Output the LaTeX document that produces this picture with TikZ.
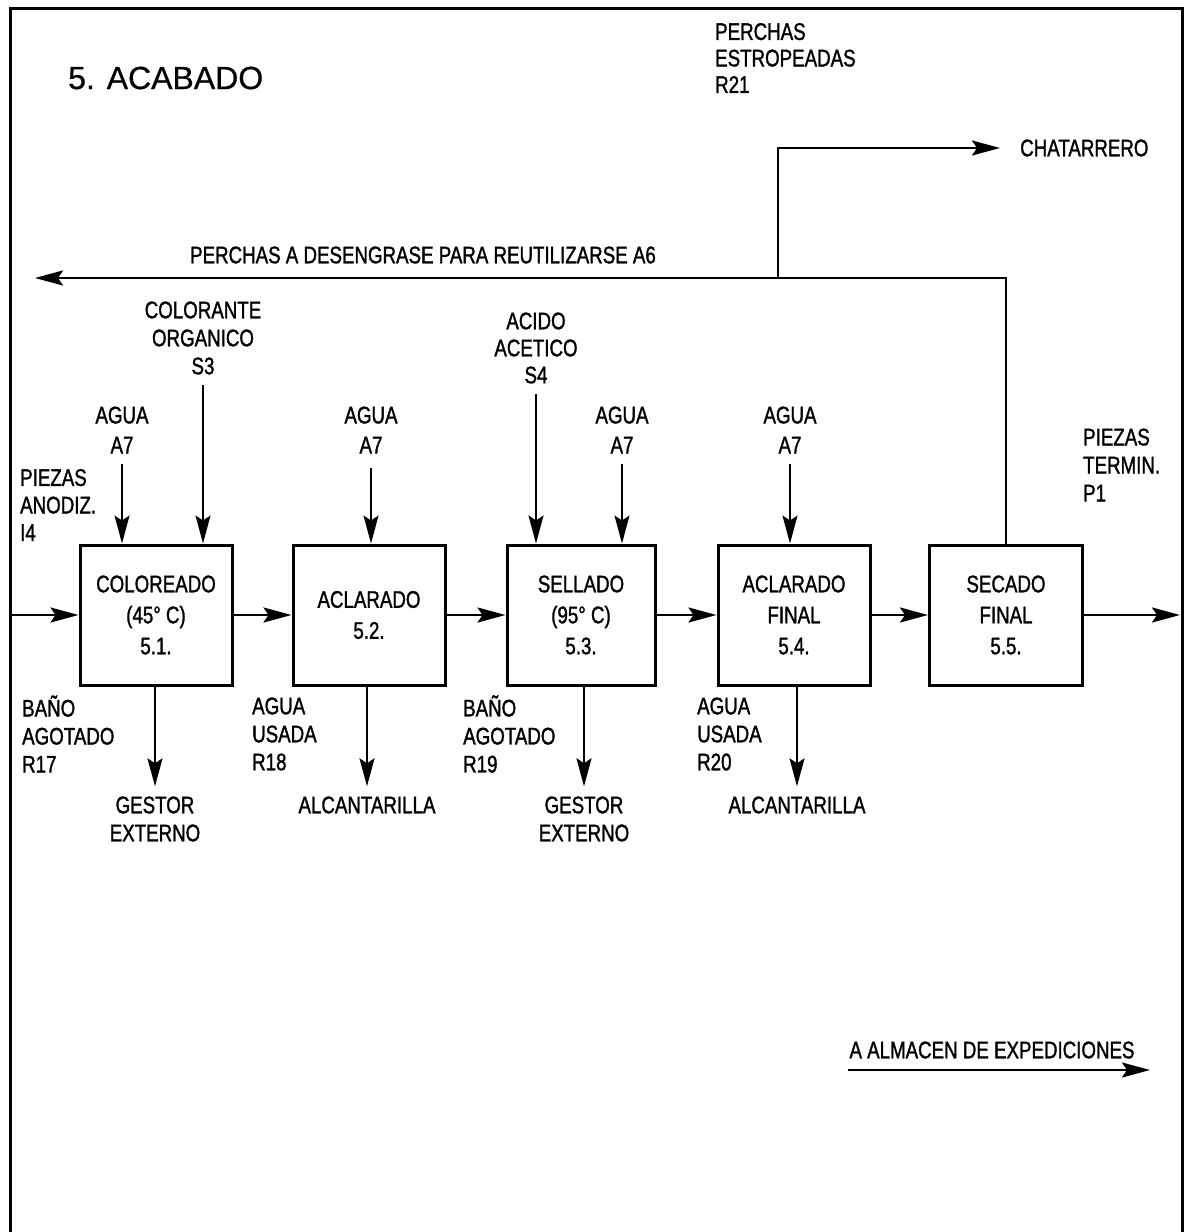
\documentclass[tikz,border=0pt]{standalone}
\usepackage{fontspec}
\setmainfont{Liberation Sans}[FakeStretch=0.78,FakeBold=1.3]
\newfontfamily\titlefont{Liberation Sans}[FakeBold=0.6]
\usetikzlibrary{arrows.meta}
\begin{document}
\begin{tikzpicture}[x=1pt,y=-1pt,
  lbl/.style={inner sep=0pt, align=center, font=\fontsize{24}{28}\selectfont},
  lbll/.style={lbl, align=left, anchor=west},
  proc/.style={draw, line width=3pt, minimum height=140pt, inner sep=0pt, align=center, font=\fontsize{24}{31}\selectfont},
  flow/.style={line width=2.5pt, -{Stealth[length=28pt,width=15pt,inset=5pt]}},
  feed/.style={line width=2pt, -{Stealth[length=28pt,width=15pt,inset=5pt]}},
  frame/.style={line width=3pt}]
\useasboundingbox (0,0) rectangle (1184,1232);
\draw[frame] (10,1232) -- (10,8) -- (1182,8) -- (1182,1232);

% title and top labels
\node[anchor=west, inner sep=0pt, font=\titlefont\fontsize{32}{36}\selectfont] (title) at (68,78) {5. ACABADO};
\node[lbll, font=\fontsize{24}{26.5}\selectfont] (r21) at (715,58) {PERCHAS\\ESTROPEADAS\\R21};
\node[lbll] (chat) at (1020,148) {CHATARRERO};
\node[lbl] (ret) at (423,255) {PERCHAS A DESENGRASE PARA REUTILIZARSE A6};

% process boxes
\node[proc, minimum width=152pt] (b1) at (156,615) {COLOREADO\\(45° C)\\5.1.};
\node[proc, minimum width=152pt] (b2) at (369,615) {ACLARADO\\5.2.};
\node[proc, minimum width=148pt] (b3) at (581,615) {SELLADO\\(95° C)\\5.3.};
\node[proc, minimum width=152pt] (b4) at (794,615) {ACLARADO\\FINAL\\5.4.};
\node[proc, minimum width=153pt] (b5) at (1006,615) {SECADO\\FINAL\\5.5.};

% main flow
\coordinate (in) at (10,615);
\coordinate (out) at (1180,615);
\draw[flow] (in) -- (b1.west);
\draw[flow] (b1.east) -- (b2.west);
\draw[flow] (b2.east) -- (b3.west);
\draw[flow] (b3.east) -- (b4.west);
\draw[flow] (b4.east) -- (b5.west);
\draw[flow] (b5.east) -- (out);

\node[lbll, font=\fontsize{24}{27.5}\selectfont] (pin) at (20,505) {PIEZAS\\ANODIZ.\\I4};
\node[lbll, font=\fontsize{24}{28}\selectfont] (pout) at (1083,465) {PIEZAS\\TERMIN.\\P1};

% inputs
\node[lbl, font=\fontsize{24}{30}\selectfont] (w1) at (122,430) {AGUA\\A7};
\node[lbl] (s3) at (203,338) {COLORANTE\\ORGANICO\\S3};
\node[lbl, font=\fontsize{24}{30}\selectfont] (w2) at (371,430) {AGUA\\A7};
\node[lbl, font=\fontsize{24}{27}\selectfont] (s4) at (536,348) {ACIDO\\ACETICO\\S4};
\node[lbl, font=\fontsize{24}{30}\selectfont] (w3) at (622,430) {AGUA\\A7};
\node[lbl, font=\fontsize{24}{30}\selectfont] (w4) at (790,430) {AGUA\\A7};
\draw[feed] ([yshift=-10pt]w1.south) -- (w1.south |- b1.north);
\draw[feed] ([yshift=-10pt]s3.south) -- (s3.south |- b1.north);
\draw[feed] ([yshift=-14pt]w2.south) -- (w2.south |- b2.north);
\draw[feed] ([yshift=-10pt]s4.south) -- (s4.south |- b3.north);
\draw[feed] ([yshift=-10pt]w3.south) -- (w3.south |- b3.north);
\draw[feed] ([yshift=-10pt]w4.south) -- (w4.south |- b4.north);

% outputs
\node[lbll, font=\fontsize{24}{28}\selectfont] (r17) at (22,734) {BAÑO\\AGOTADO\\R17};
\node[lbll, font=\fontsize{24}{28}\selectfont] (r18) at (252,734) {AGUA\\USADA\\R18};
\node[lbll, font=\fontsize{24}{28}\selectfont] (r19) at (463,734) {BAÑO\\AGOTADO\\R19};
\node[lbll, font=\fontsize{24}{28}\selectfont] (r20) at (697,734) {AGUA\\USADA\\R20};
\node[lbl] (g1) at (155,819) {GESTOR\\EXTERNO};
\node[lbl] (a1) at (367,805) {ALCANTARILLA};
\node[lbl] (g2) at (584,819) {GESTOR\\EXTERNO};
\node[lbl] (a2) at (797,805) {ALCANTARILLA};
\draw[flow] (b1.south -| g1.north) -- ([yshift=10pt]g1.north);
\draw[flow] (b2.south -| a1.north) -- ([yshift=10pt]a1.north);
\draw[flow] (b3.south -| g2.north) -- ([yshift=10pt]g2.north);
\draw[flow] (b4.south -| a2.north) -- ([yshift=10pt]a2.north);

% hanger return and scrap
\coordinate (retend) at (35,278);
\coordinate (br) at (778,278);
\draw[flow] (b5.north) |- (retend);
\draw[flow] (br) |- ([xshift=-20pt]chat.west);

% to warehouse
\node[lbl] (alm) at (992,1050) {A ALMACEN DE EXPEDICIONES};
\coordinate (as) at (848,1070);
\coordinate (ae) at (1150,1070);
\draw[flow] (as) -- (ae);
\end{tikzpicture}
\end{document}
